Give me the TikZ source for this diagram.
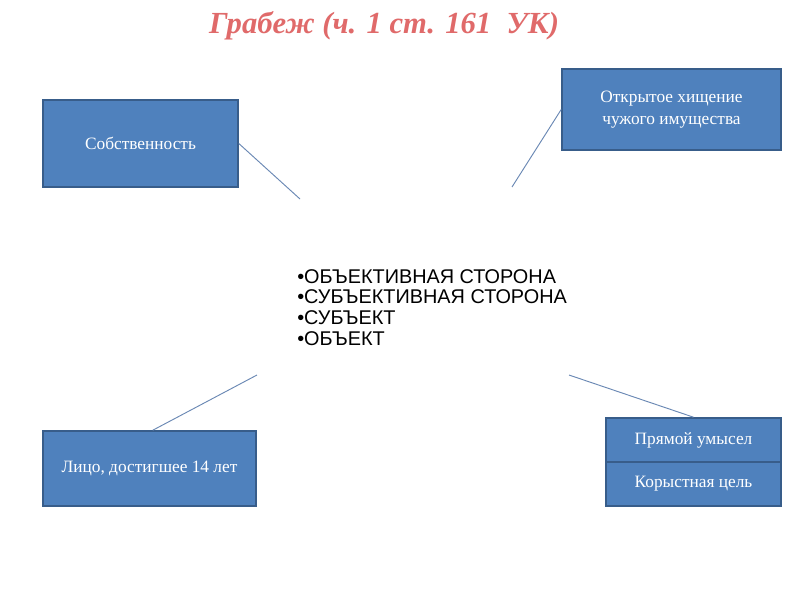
\documentclass[tikz,border=0pt]{standalone}
\usepackage{fontspec}
\setmainfont{Liberation Serif}
\newfontfamily\arialf{Liberation Sans}
\definecolor{boxfill}{HTML}{4F81BD}
\definecolor{boxedge}{HTML}{385D8A}
\definecolor{titlered}{HTML}{E06A6A}
\definecolor{linkc}{HTML}{6A88B4}
\begin{document}
\begin{tikzpicture}[x=0.75pt,y=-0.75pt,
  bluebox/.style={draw=boxedge,line width=1.2pt,fill=boxfill,text=white,
    inner sep=0pt,font=\fontsize{13}{16.5}\selectfont,align=center},
  link/.style={draw=linkc,line width=0.7pt}]
\useasboundingbox (0,0) rectangle (800,600);
\fill[white] (0,0) rectangle (800,600);
\node[text=titlered,font=\fontsize{23}{27}\selectfont\bfseries\itshape] (title) at (384,26) {Грабеж (ч. 1 ст. 161\ \ УК)};
\node[bluebox,minimum width=195*0.75pt,minimum height=87*0.75pt] (own) at (140.5,143.5) {Собственность};
\node[bluebox,minimum width=219*0.75pt,minimum height=81*0.75pt] (open) at (671.5,109.5) {Открытое хищение\\чужого имущества};
\node[bluebox,minimum width=213*0.75pt,minimum height=75*0.75pt] (face) at (149.5,468.5) {Лицо, достигшее 14 лет};
\node[bluebox,minimum width=175*0.75pt,minimum height=44*0.75pt] (intent) at (693.5,440) {Прямой умысел};
\node[bluebox,minimum width=175*0.75pt,minimum height=44*0.75pt] (goal) at (693.5,484) {Корыстная цель};
\node[anchor=north west,inner sep=0pt,align=left,font=\arialf\fontsize{14.9}{15.5}\selectfont] (center) at (297,269)
  {•ОБЪЕКТИВНАЯ СТОРОНА\\•СУБЪЕКТИВНАЯ СТОРОНА\\•СУБЪЕКТ\\•ОБЪЕКТ};
\coordinate (c1) at (300,199);
\coordinate (c2) at (512,187);
\coordinate (c3) at (257,375);
\coordinate (c4) at (569,375);
\draw[link] (own.east) -- (c1);
\draw[link] (open.west) -- (c2);
\draw[link] ([xshift=2.5pt]face.north) -- (c3);
\draw[link] (intent.north) -- (c4);
\end{tikzpicture}
\end{document}
